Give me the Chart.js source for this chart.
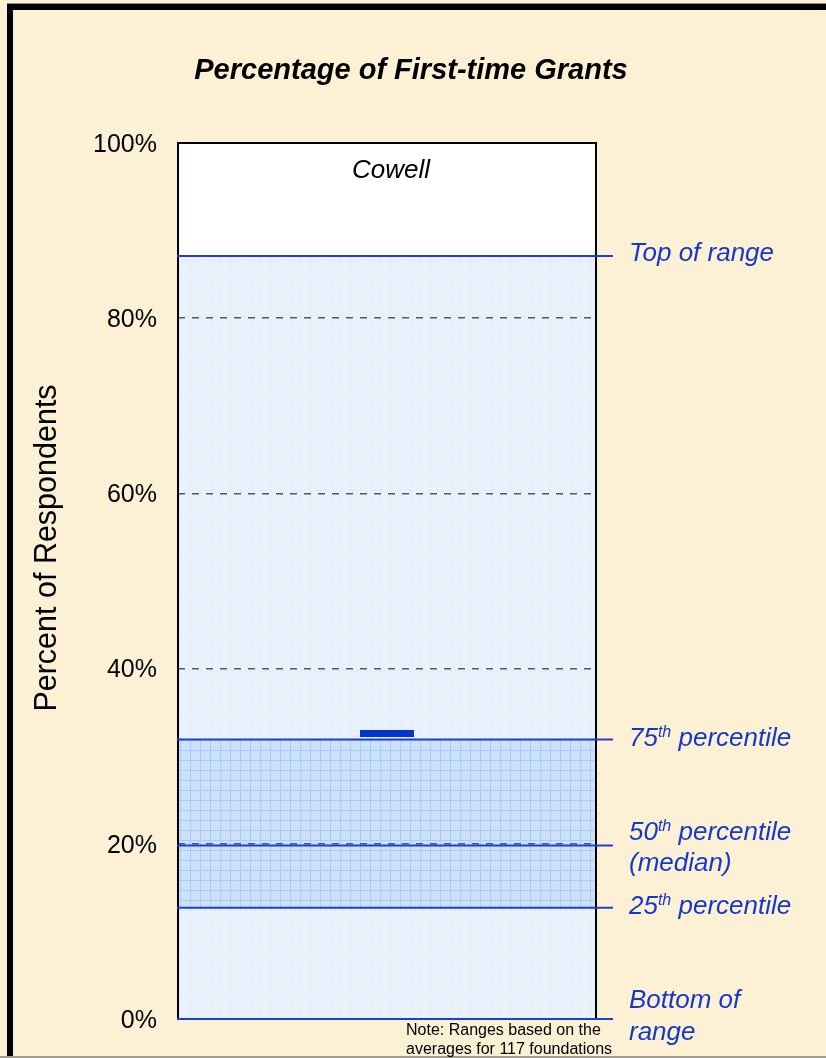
<!DOCTYPE html>
<html>
<head>
<meta charset="utf-8">
<script src="https://cdn.jsdelivr.net/npm/chart.js@4/dist/chart.umd.min.js"></script>
<style>
  html, body { margin: 0; padding: 0; background: #fcf1d5; }
  #wrap { width: 826px; height: 1058px; position: relative; }
</style>
</head>
<body>
<div id="wrap"><canvas id="chart" width="826" height="1058"></canvas></div>
<script>
// ---- data ----
const categories = ['Cowell'];
const rangeBounds = [0, 87.1];     // bottom / top of range across foundations
const quartiles = [12.7, 31.9];    // 25th / 75th percentile
const medianValue = 19.8;          // 50th percentile
const cowellValue = [32.6];        // this foundation's result
const yTickStep = 20;
const yMin = 0, yMax = 100;

const chartTitle = 'Percentage of First-time Grants';
const yTitle = 'Percent of Respondents';
const noteLines = ['Note: Ranges based on the', 'averages for 117 foundations'];

// guide labels: each line is a list of [text, isSuperscript]
const guideLabels = [
  { value: rangeBounds[1], lines: [[['Top of range', false]]] },
  { value: quartiles[1],   lines: [[['75', false], ['th', true], [' percentile', false]]] },
  { value: medianValue,    lines: [[['50', false], ['th', true], [' percentile', false]], [['(median)', false]]] },
  { value: quartiles[0],   lines: [[['25', false], ['th', true], [' percentile', false]]] },
  { value: rangeBounds[0], lines: [[['Bottom of', false]], [['range', false]]] }
];

// ---- styles ----
const FONT = '"Liberation Sans", Arial, Helvetica, sans-serif';
const CREAM = '#fcf1d5';
const GUIDE_BLUE = '#1c3fd6';
const LABEL_BLUE = '#1638c6';
// baseline offsets (px) of each guide label line, relative to its guide line
const labelBaselines = [[5], [6], [-6, 25], [6], [-11, 21]];

function makeTile(base, dot, line) {
  const t = document.createElement('canvas');
  t.width = 10; t.height = 10;
  const c = t.getContext('2d');
  c.fillStyle = base; c.fillRect(0, 0, 10, 10);
  c.fillStyle = dot;
  for (let y = 0; y < 10; y++)
    for (let x = 0; x < 10; x++)
      if ((x + y) % 2 === 0) c.fillRect(x, y, 1, 1);
  c.fillStyle = line;
  c.fillRect(0, 0, 10, 1);
  c.fillRect(0, 0, 1, 10);
  return t;
}

const canvas = document.getElementById('chart');
const ctx = canvas.getContext('2d');
const rangeFill = ctx.createPattern(makeTile('#f2f7fe', '#e1ecfb', '#e3edfb'), 'repeat');
const iqrFill = ctx.createPattern(makeTile('#d5e7fd', '#c6dcfb', '#a9ccf6'), 'repeat');

// marker glyph for the foundation's value
const marker = document.createElement('canvas');
marker.width = 54; marker.height = 7;
(function () {
  const m = marker.getContext('2d');
  m.fillStyle = '#0534c8';
  m.fillRect(0, 0, 54, 7);
})();

function drawSegments(c, segs, x, baseline) {
  let cx = x;
  for (const [text, sup] of segs) {
    if (sup) {
      c.font = 'italic 16px ' + FONT;
      c.fillText(text, cx, baseline - 9);
    } else {
      c.font = 'italic 26px ' + FONT;
      c.fillText(text, cx, baseline);
    }
    cx += c.measureText(text).width;
  }
}

const decor = {
  id: 'decor',
  beforeDraw(chart) {
    const c = chart.ctx, a = chart.chartArea;
    c.save();
    c.fillStyle = CREAM;
    c.fillRect(0, 0, chart.width, chart.height);
    // frame edges
    c.fillStyle = '#8a8a80';
    c.fillRect(7, 3, chart.width - 7, 1);
    c.fillStyle = '#000';
    c.fillRect(7, 4, chart.width - 7, 6);
    c.fillRect(7, 4, 6, chart.height - 4);
    c.fillStyle = '#a19d8e';
    c.fillRect(0, chart.height - 2, chart.width, 2);
    // plot background
    c.fillStyle = '#ffffff';
    c.fillRect(a.left, a.top, a.right - a.left, a.bottom - a.top);
    c.restore();
  },
  afterDraw(chart) {
    const c = chart.ctx, a = chart.chartArea;
    const y = chart.scales.y, x = chart.scales.x;
    c.save();
    // plot border
    c.strokeStyle = '#000';
    c.lineWidth = 2;
    c.strokeRect(a.left, a.top, a.right - a.left, a.bottom - a.top);

    // guide lines and their labels
    guideLabels.forEach((g, i) => {
      const py = y.getPixelForValue(g.value);
      c.strokeStyle = GUIDE_BLUE;
      c.lineWidth = 2;
      c.beginPath();
      c.moveTo(a.left - 1, py);
      c.lineTo(a.right + 17, py);
      c.stroke();
      c.fillStyle = LABEL_BLUE;
      c.textAlign = 'left';
      c.textBaseline = 'alphabetic';
      g.lines.forEach((segs, j) => drawSegments(c, segs, a.right + 33, py + labelBaselines[i][j]));
    });

    // chart title
    c.fillStyle = '#000';
    c.textAlign = 'center';
    c.textBaseline = 'alphabetic';
    c.font = 'bold italic 29px ' + FONT;
    c.fillText(chartTitle, 411, 79);

    // category name inside the plot
    c.font = 'italic 26px ' + FONT;
    c.fillText(categories[0], x.getPixelForValue(0) + 4, a.top + 35);

    // y axis title
    c.save();
    c.translate(56, 548);
    c.rotate(-Math.PI / 2);
    c.font = '30.5px ' + FONT;
    c.fillText(yTitle, 0, 0);
    c.restore();

    // note
    c.textAlign = 'left';
    c.font = '16px ' + FONT;
    c.fillText(noteLines[0], 406, 1035);
    c.fillText(noteLines[1], 406, 1054);
    c.restore();
  }
};

new Chart(ctx, {
  type: 'bar',
  data: {
    labels: categories,
    datasets: [
      {
        label: 'Range',
        data: [rangeBounds],
        backgroundColor: rangeFill,
        borderWidth: 0,
        barPercentage: 1,
        categoryPercentage: 1,
        grouped: false,
        order: 3
      },
      {
        label: 'Interquartile range',
        data: [quartiles],
        backgroundColor: iqrFill,
        borderWidth: 0,
        barPercentage: 1,
        categoryPercentage: 1,
        grouped: false,
        order: 2
      },
      {
        type: 'line',
        label: categories[0],
        data: cowellValue,
        showLine: false,
        pointStyle: marker,
        order: 1
      }
    ]
  },
  options: {
    responsive: false,
    animation: false,
    events: [],
    layout: { padding: { left: 0, right: 230, top: 143, bottom: 39 } },
    plugins: {
      legend: { display: false },
      tooltip: { enabled: false },
      title: { display: false }
    },
    scales: {
      x: { display: false },
      y: {
        min: yMin,
        max: yMax,
        afterFit(scale) { scale.width = 178; },
        ticks: {
          stepSize: yTickStep,
          padding: 21,
          labelOffset: 2,
          color: '#000',
          font: { family: FONT, size: 25 },
          callback: v => v + '%'
        },
        grid: {
          z: 1,
          drawTicks: false,
          lineWidth: 1.5,
          color: c => (c.tick && (c.tick.value === yMin || c.tick.value === yMax)) ? 'rgba(0,0,0,0)' : '#555a62'
        },
        border: { display: false, dash: [7, 7] }
      }
    }
  },
  plugins: [decor]
});
</script>
</body>
</html>
